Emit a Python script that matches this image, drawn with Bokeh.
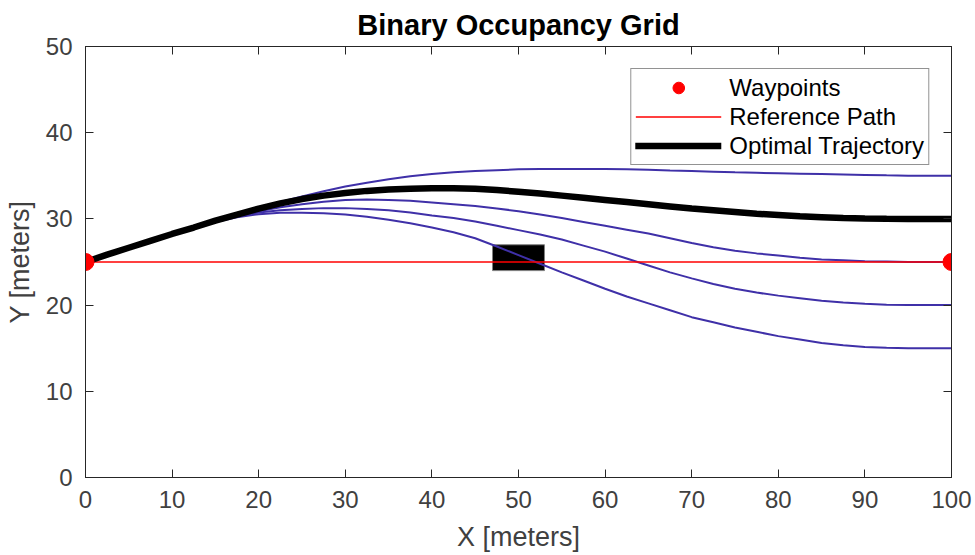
from bokeh.plotting import figure
from bokeh.models import LinearAxis, Legend, LegendItem, FixedTicker, Range1d
from bokeh.embed import file_html
from bokeh.resources import INLINE

# ---- data ----
x_samples = [0, 2.5, 5, 7.5, 10, 12.5, 15, 17.5, 20, 22.5, 25, 27.5, 30, 32.5, 35, 37.5,
             40, 42.5, 45, 47.5, 50, 52.5, 55, 57.5, 60, 62.5, 65, 67.5, 70, 72.5,
             75, 77.5, 80, 82.5, 85, 87.5, 90, 92.5, 95, 97.5, 100]

cand_y35 = [25, 25.85, 26.65, 27.45, 28.25, 29.0, 29.8, 30.55, 31.3, 31.95, 32.6, 33.2, 33.75, 34.2, 34.6, 34.95,
            35.2, 35.4, 35.55, 35.65, 35.75, 35.78, 35.8, 35.8, 35.8, 35.75, 35.7, 35.62, 35.55, 35.48,
            35.4, 35.35, 35.3, 35.25, 35.2, 35.15, 35.1, 35.05, 35.02, 35.0, 35.0]
cand_y25 = [25, 25.85, 26.65, 27.45, 28.25, 29.0, 29.75, 30.4, 30.9, 31.35, 31.7, 32.0, 32.2, 32.25, 32.2, 32.1,
            31.9, 31.7, 31.5, 31.2, 30.9, 30.5, 30.1, 29.65, 29.2, 28.75, 28.3, 27.75, 27.2, 26.7,
            26.3, 26.0, 25.75, 25.5, 25.3, 25.2, 25.1, 25.05, 25.0, 25.0, 25.0]
cand_y20 = [25, 25.85, 26.65, 27.45, 28.25, 29.0, 29.7, 30.3, 30.75, 31.0, 31.15, 31.25, 31.25, 31.15, 31.0, 30.75,
            30.4, 30.1, 29.7, 29.2, 28.7, 28.2, 27.6, 26.9, 26.2, 25.4, 24.6, 23.8, 23.1, 22.45,
            21.9, 21.45, 21.1, 20.8, 20.5, 20.3, 20.15, 20.05, 20.0, 20.0, 20.0]
cand_y15 = [25, 25.85, 26.65, 27.45, 28.25, 29.0, 29.65, 30.2, 30.55, 30.7, 30.7, 30.65, 30.5, 30.25, 29.9, 29.5,
            29.0, 28.45, 27.75, 26.8, 25.8, 24.8, 23.8, 22.85, 21.9, 21.0, 20.2, 19.4, 18.6, 18.0,
            17.4, 16.9, 16.4, 16.0, 15.6, 15.35, 15.15, 15.05, 15.0, 15.0, 15.0]
optimal_y = [25, 25.85, 26.65, 27.45, 28.25, 29.0, 29.8, 30.5, 31.2, 31.8, 32.3, 32.7, 33.0, 33.25, 33.4, 33.5,
             33.55, 33.55, 33.5, 33.35, 33.15, 32.95, 32.7, 32.45, 32.2, 31.95, 31.7, 31.45, 31.2, 31.0,
             30.8, 30.6, 30.45, 30.3, 30.2, 30.1, 30.05, 30.02, 30.0, 30.0, 30.0]

waypoints_x = [0, 100]
waypoints_y = [25, 25]

ref_path_x = [0, 100]
ref_path_y = [25, 25]

obstacle_left = [47]
obstacle_right = [53]
obstacle_bottom = [24]
obstacle_top = [27]

x_ticks = [0, 10, 20, 30, 40, 50, 60, 70, 80, 90, 100]
y_ticks = [0, 10, 20, 30, 40, 50]

FONT = "Liberation Sans"
AX = "#262626"
LBL = "#404040"

p = figure(width=975, height=555,
           x_range=Range1d(0, 100), y_range=Range1d(0, 50),
           output_backend="svg", toolbar_location=None,
           title="Binary Occupancy Grid",
           x_axis_label="X [meters]", y_axis_label="Y [meters]",
           min_border_left=85, min_border_right=24,
           min_border_top=44, min_border_bottom=78)

p.background_fill_color = "white"
p.border_fill_color = "white"
p.outline_line_color = AX
p.xgrid.visible = False
p.ygrid.visible = False

p.title.align = "center"
p.title.text_font = FONT
p.title.text_font_size = "29px"
p.title.text_font_style = "bold"
p.title.text_color = "#000000"
p.title.standoff = 12

def style_axis(ax, ticks, labels=True):
    ax.ticker = FixedTicker(ticks=ticks)
    ax.major_tick_in = 8
    ax.major_tick_out = 0
    ax.minor_tick_line_color = None
    ax.axis_line_color = AX
    ax.major_tick_line_color = AX
    ax.axis_line_width = 1
    ax.major_tick_line_width = 1
    if labels:
        ax.major_label_text_font = FONT
        ax.major_label_text_font_size = "24px"
        ax.major_label_text_color = LBL
        ax.axis_label_text_font = FONT
        ax.axis_label_text_font_size = "27px"
        ax.axis_label_text_font_style = "normal"
        ax.axis_label_text_color = LBL
    else:
        ax.major_label_text_font_size = "0px"
        ax.major_label_standoff = 0

style_axis(p.xaxis[0], x_ticks)
style_axis(p.yaxis[0], y_ticks)
p.xaxis[0].major_label_standoff = 13
p.xaxis[0].axis_label_standoff = 11
p.yaxis[0].major_label_standoff = 13
p.yaxis[0].axis_label_standoff = 8

top_ax = LinearAxis()
style_axis(top_ax, x_ticks, labels=False)
p.add_layout(top_ax, "above")
right_ax = LinearAxis()
style_axis(right_ax, y_ticks, labels=False)
p.add_layout(right_ax, "right")

# obstacle
p.quad(left=obstacle_left, right=obstacle_right, bottom=obstacle_bottom, top=obstacle_top,
       fill_color="black", line_color="#808080", line_width=1)

# candidate trajectories
BLUE = "#3F30A8"
for ys in (cand_y35, cand_y25, cand_y20, cand_y15):
    p.line(x_samples, ys, line_color=BLUE, line_width=2)

ref_r = p.line(ref_path_x, ref_path_y, line_color="#FF0000", line_width=1.5)
opt_r = p.line(x_samples, optimal_y, line_color="black", line_width=6.5, line_cap="square")
wp_r = p.scatter(waypoints_x, waypoints_y, marker="circle", size=17,
                 fill_color="#FF0000", line_color="#FF0000")

legend = Legend(items=[
    LegendItem(label="Waypoints", renderers=[wp_r]),
    LegendItem(label="Reference Path", renderers=[ref_r]),
    LegendItem(label="Optimal Trajectory", renderers=[opt_r]),
], location="top_right")
legend.margin = 22
legend.padding = 4
legend.spacing = 0
legend.glyph_width = 86
legend.glyph_height = 29
legend.label_height = 20
legend.label_standoff = 8
legend.label_text_font = FONT
legend.label_text_font_size = "24px"
legend.label_text_line_height = 1.0
legend.label_text_color = "#000000"
legend.border_line_color = AX
legend.border_line_width = 1
legend.background_fill_color = "white"
legend.background_fill_alpha = 1.0
p.add_layout(legend)

open("out.html", "w").write(file_html(p, INLINE))
